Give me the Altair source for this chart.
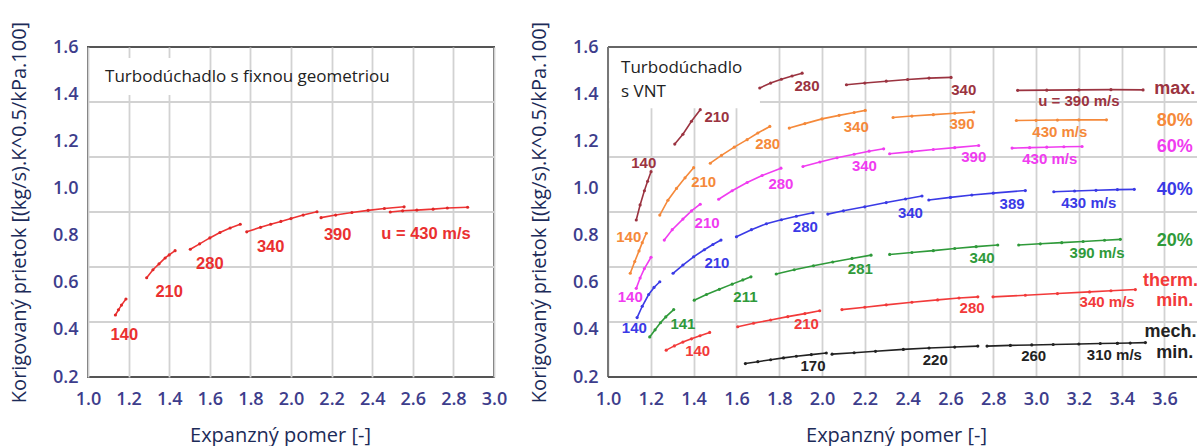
import altair as alt
import pandas as pd

# ---------------- data ----------------
# Left panel: fixed-geometry turbine, red speed lines (u in m/s)
LEFT_SPEEDS = ["140", "210", "280", "340", "390", "430"]
LEFT_X = [
    [1.135, 1.15, 1.165, 1.187],
    [1.289, 1.32, 1.35, 1.38, 1.40, 1.429],
    [1.504, 1.55, 1.60, 1.65, 1.70, 1.75],
    [1.782, 1.85, 1.90, 1.95, 2.00, 2.06, 2.128],
    [2.148, 2.22, 2.30, 2.38, 2.46, 2.557],
    [2.489, 2.55, 2.62, 2.70, 2.77, 2.87],
]
LEFT_Y = [
    [0.463, 0.485, 0.505, 0.531],
    [0.621, 0.655, 0.680, 0.705, 0.718, 0.736],
    [0.742, 0.765, 0.790, 0.813, 0.832, 0.848],
    [0.816, 0.835, 0.848, 0.860, 0.872, 0.887, 0.901],
    [0.876, 0.887, 0.898, 0.907, 0.915, 0.922],
    [0.900, 0.905, 0.908, 0.912, 0.917, 0.920],
]
LEFT_LABEL_TEXT = ["140", "210", "280", "340", "390", "u = 430 m/s"]
LEFT_LABEL_X = [1.179, 1.40, 1.60, 1.90, 2.23, 2.665]
LEFT_LABEL_Y = [0.378, 0.559, 0.679, 0.753, 0.802, 0.807]

# Right panel: VNT turbine, one family of speed lines per vane position
SERIES = ["max.", "80%", "60%", "40%", "20%", "therm. min.", "mech. min."]
COLORS = ["#9b3340", "#f5893a", "#f03cf0", "#3a3ae6", "#2f9a3a", "#f23a3a", "#222222"]
TEXT_COLORS = ["#8e2f3a", "#f5893a", "#f03cf0", "#3a3ae6", "#2f9a3a", "#f23a3a", "#555555"]

MAX_X = [[1.132, 1.15, 1.17, 1.185, 1.201], [1.312, 1.35, 1.39, 1.431],
         [1.709, 1.76, 1.81, 1.86, 1.907], [2.114, 2.2, 2.3, 2.4, 2.5, 2.603],
         [2.914, 3.05, 3.2, 3.35, 3.5]]
MAX_Y = [[0.866, 0.93, 0.99, 1.03, 1.071], [1.188, 1.23, 1.285, 1.334],
         [1.426, 1.447, 1.463, 1.477, 1.489], [1.44, 1.447, 1.455, 1.462, 1.468, 1.471],
         [1.416, 1.417, 1.418, 1.419, 1.418]]
P80_X = [[1.104, 1.125, 1.145, 1.16, 1.179], [1.242, 1.28, 1.32, 1.36, 1.40],
         [1.478, 1.53, 1.59, 1.65, 1.70, 1.756], [1.847, 1.92, 2.0, 2.08, 2.15, 2.202],
         [2.332, 2.42, 2.52, 2.62, 2.709], [2.908, 3.0, 3.1, 3.2, 3.329]]
P80_Y = [[0.640, 0.69, 0.735, 0.77, 0.810], [0.887, 0.95, 1.0, 1.045, 1.088],
         [1.107, 1.14, 1.175, 1.207, 1.235, 1.263], [1.256, 1.275, 1.295, 1.31, 1.322, 1.331],
         [1.301, 1.307, 1.313, 1.319, 1.324], [1.288, 1.289, 1.29, 1.291, 1.291]]
P60_X = [[1.132, 1.15, 1.17, 1.201], [1.263, 1.30, 1.35, 1.39, 1.431],
         [1.517, 1.58, 1.65, 1.72, 1.808], [1.911, 1.99, 2.07, 2.15, 2.22, 2.288],
         [2.316, 2.42, 2.52, 2.62, 2.732], [2.888, 2.97, 3.05, 3.13, 3.215]]
P60_Y = [[0.576, 0.62, 0.66, 0.708], [0.781, 0.825, 0.87, 0.905, 0.933],
         [0.954, 0.99, 1.025, 1.055, 1.086], [1.093, 1.112, 1.13, 1.145, 1.158, 1.168],
         [1.147, 1.156, 1.165, 1.173, 1.182], [1.171, 1.173, 1.175, 1.177, 1.178]]
P40_X = [[1.136, 1.16, 1.19, 1.215, 1.242], [1.304, 1.35, 1.40, 1.45, 1.49, 1.528],
         [1.600, 1.67, 1.74, 1.81, 1.88, 1.958], [2.027, 2.1, 2.2, 2.3, 2.39, 2.467],
         [2.499, 2.6, 2.7, 2.8, 2.95], [3.083, 3.18, 3.28, 3.38, 3.459]]
P40_Y = [[0.452, 0.50, 0.55, 0.58, 0.604], [0.640, 0.675, 0.71, 0.74, 0.762, 0.781],
         [0.795, 0.825, 0.85, 0.867, 0.882, 0.897], [0.891, 0.905, 0.922, 0.94, 0.955, 0.968],
         [0.951, 0.962, 0.972, 0.98, 0.991], [0.986, 0.989, 0.992, 0.995, 0.996]]
P20_X = [[1.195, 1.22, 1.245, 1.27, 1.307], [1.403, 1.46, 1.52, 1.58, 1.63, 1.668],
         [1.786, 1.87, 1.96, 2.05, 2.14, 2.229], [2.316, 2.42, 2.52, 2.62, 2.72, 2.821],
         [2.919, 3.02, 3.12, 3.22, 3.32, 3.394]]
P20_Y = [[0.370, 0.40, 0.43, 0.455, 0.486], [0.526, 0.55, 0.572, 0.594, 0.612, 0.625],
         [0.637, 0.655, 0.672, 0.688, 0.703, 0.717], [0.720, 0.728, 0.736, 0.745, 0.753, 0.760],
         [0.760, 0.765, 0.77, 0.775, 0.78, 0.784]]
THERM_X = [[1.272, 1.31, 1.35, 1.39, 1.43, 1.475], [1.606, 1.68, 1.76, 1.84, 1.92, 1.989],
           [2.093, 2.2, 2.3, 2.42, 2.54, 2.64, 2.728], [2.799, 2.95, 3.1, 3.25, 3.35, 3.464]]
THERM_Y = [[0.314, 0.332, 0.348, 0.362, 0.375, 0.389], [0.413, 0.428, 0.442, 0.456, 0.469, 0.481],
           [0.486, 0.496, 0.506, 0.517, 0.527, 0.535, 0.540], [0.540, 0.547, 0.554, 0.561, 0.566, 0.571]]
MECH_X = [[1.642, 1.70, 1.76, 1.82, 1.88, 1.95, 2.02], [2.047, 2.15, 2.25, 2.38, 2.5, 2.62, 2.728],
          [2.771, 2.88, 2.98, 3.08, 3.2, 3.3, 3.38], [3.38, 3.44, 3.511]]
MECH_Y = [[0.257, 0.265, 0.273, 0.281, 0.288, 0.295, 0.302], [0.297, 0.303, 0.309, 0.317, 0.323, 0.327, 0.331],
          [0.331, 0.334, 0.336, 0.338, 0.340, 0.342, 0.343], [0.343, 0.344, 0.346]]
RIGHT_X = [MAX_X, P80_X, P60_X, P40_X, P20_X, THERM_X, MECH_X]
RIGHT_Y = [MAX_Y, P80_Y, P60_Y, P40_Y, P20_Y, THERM_Y, MECH_Y]

# speed labels next to the lines: (series, text, x, y)
RIGHT_LABELS = [
    ("max.", "140", 1.167, 1.110), ("max.", "210", 1.509, 1.305), ("max.", "280", 1.930, 1.433),
    ("max.", "340", 2.662, 1.418), ("max.", "u = 390 m/s", 3.2, 1.372),
    ("80%", "140", 1.097, 0.795), ("80%", "210", 1.447, 1.029), ("80%", "280", 1.746, 1.189),
    ("80%", "340", 2.16, 1.26), ("80%", "390", 2.654, 1.274), ("80%", "430 m/s", 3.111, 1.241),
    ("60%", "140", 1.104, 0.540), ("60%", "210", 1.463, 0.852), ("60%", "280", 1.808, 1.019),
    ("60%", "340", 2.198, 1.096), ("60%", "390", 2.709, 1.135), ("60%", "430 m/s", 3.064, 1.124),
    ("40%", "140", 1.123, 0.406), ("40%", "210", 1.509, 0.685), ("40%", "280", 1.922, 0.835),
    ("40%", "340", 2.413, 0.897), ("40%", "389", 2.888, 0.933), ("40%", "430 m/s", 3.246, 0.937),
    ("20%", "141", 1.350, 0.424), ("20%", "211", 1.642, 0.538), ("20%", "281", 2.179, 0.657),
    ("20%", "340", 2.748, 0.706), ("20%", "390 m/s", 3.285, 0.727),
    ("therm. min.", "140", 1.419, 0.311), ("therm. min.", "210", 1.927, 0.424),
    ("therm. min.", "280", 2.701, 0.491), ("therm. min.", "340 m/s", 3.332, 0.519),
    ("mech. min.", "170", 1.958, 0.246), ("mech. min.", "220", 2.529, 0.274),
    ("mech. min.", "260", 2.989, 0.288), ("mech. min.", "310 m/s", 3.366, 0.292),
]
# vane-position key at the right edge
KEY_LABELS = [
    ("max.", "max.", 3.648, 1.423), ("80%", "80%", 3.648, 1.284), ("60%", "60%", 3.648, 1.175),
    ("40%", "40%", 3.648, 0.994), ("20%", "20%", 3.648, 0.778),
    ("therm. min.", "therm.", 3.628, 0.606), ("therm. min.", "min.", 3.648, 0.524),
    ("mech. min.", "mech.", 3.628, 0.393), ("mech. min.", "min.", 3.648, 0.300),
]

Y_TICKS = [0.2, 0.4, 0.6, 0.8, 1.0, 1.2, 1.4, 1.6]
Y_GRID = [0.4333, 0.6667, 0.9, 1.1333, 1.3667]
LEFT_X_TICKS = [1.0, 1.2, 1.4, 1.6, 1.8, 2.0, 2.2, 2.4, 2.6, 2.8, 3.0]
RIGHT_X_TICKS = [1.0, 1.2, 1.4, 1.6, 1.8, 2.0, 2.2, 2.4, 2.6, 2.8, 3.0, 3.2, 3.4, 3.6]

LEFT_TITLE = "Turbodúchadlo s fixnou geometriou"
RIGHT_TITLE = ["Turbodúchadlo", "s VNT"]
Y_TITLE = "Korigovaný prietok [(kg/s).K^0.5/kPa.100]"
X_TITLE = "Expanzný pomer [-]"

# ---------------- build tables ----------------
left_rows = []
for sp, xs, ys in zip(LEFT_SPEEDS, LEFT_X, LEFT_Y):
    for i, (x, y) in enumerate(zip(xs, ys)):
        left_rows.append({"seg": sp, "order": i, "x": x, "y": y})
left_df = pd.DataFrame(left_rows)
left_lab = pd.DataFrame({"text": LEFT_LABEL_TEXT, "x": LEFT_LABEL_X, "y": LEFT_LABEL_Y})

right_rows = []
for s, segx, segy in zip(SERIES, RIGHT_X, RIGHT_Y):
    for k, (xs, ys) in enumerate(zip(segx, segy)):
        for i, (x, y) in enumerate(zip(xs, ys)):
            right_rows.append({"series": s, "seg": f"{s}-{k}", "order": i, "x": x, "y": y})
right_df = pd.DataFrame(right_rows)
right_lab = pd.DataFrame(RIGHT_LABELS, columns=["series", "text", "x", "y"])
key_lab = pd.DataFrame(KEY_LABELS, columns=["series", "text", "x", "y"])

grid_df = pd.DataFrame({"y": Y_GRID})

LABEL_FONT = "Liberation Sans"
TICK_FONT = "Open Sans"
TICK_COLOR = "#3d3d8c"
TITLE_COLOR = "#1c2b58"
GRID_COLOR = "#d2d2d2"

def y_axis():
    return alt.Axis(values=Y_TICKS, format=".1f", grid=False, ticks=False, domain=False,
                    labelFlush=False,
                    labelFont=TICK_FONT, labelFontSize=18, labelFontWeight=600,
                    labelColor=TICK_COLOR, labelPadding=10,
                    title=Y_TITLE, titleFont="Open Sans", titleFontSize=20, titleFontWeight="normal",
                    titleColor=TITLE_COLOR, titlePadding=23)

def x_axis(vals, title_x):
    return alt.Axis(values=vals, format=".1f", grid=True, gridColor=GRID_COLOR, gridWidth=1.8,
                    ticks=False, domain=False, labelFlush=False,
                    labelFont=TICK_FONT, labelFontSize=18, labelFontWeight=600,
                    labelColor=TICK_COLOR, labelPadding=13,
                    title=X_TITLE, titleFont="Open Sans", titleFontSize=20, titleFontWeight="normal",
                    titleColor=TITLE_COLOR, titlePadding=17, titleX=title_x)

# ---------------- left panel ----------------
lx = alt.Scale(domain=[1.0, 3.0], nice=False, zero=False)
ly = alt.Scale(domain=[0.2, 1.6], nice=False, zero=False)

l_base = alt.Chart(left_df).encode(
    x=alt.X("x:Q", scale=lx, axis=x_axis(LEFT_X_TICKS, 192)),
    y=alt.Y("y:Q", scale=ly, axis=y_axis()),
)
l_grid = alt.Chart(grid_df).mark_rule(color=GRID_COLOR, strokeWidth=1.8).encode(y=alt.Y("y:Q", scale=ly))
l_box = alt.Chart(pd.DataFrame({"x": [1.02], "x2": [1.56], "y": [1.396], "y2": [1.553]})).mark_rect(
    color="white").encode(x=alt.X("x:Q", scale=lx), x2="x2", y=alt.Y("y:Q", scale=ly), y2="y2")
l_lines = l_base.mark_line(color="#ee3333", strokeWidth=1.6).encode(detail="seg:N", order="order:Q")
l_pts = l_base.mark_circle(color="#e02828", size=10, opacity=1)
l_labels = alt.Chart(left_lab).mark_text(font=LABEL_FONT, fontWeight="bold", fontSize=16.5,
                                         color="#ea3030", baseline="middle").encode(
    x=alt.X("x:Q", scale=lx), y=alt.Y("y:Q", scale=ly), text="text:N")
l_title = alt.Chart(pd.DataFrame({"text": [LEFT_TITLE], "x": [1.084], "y": [1.473]})).mark_text(
    font="Open Sans", fontSize=17, color="#222222", align="left", baseline="middle").encode(
    x=alt.X("x:Q", scale=lx), y=alt.Y("y:Q", scale=ly), text="text:N")

left = alt.layer(l_grid, l_box, l_lines, l_pts, l_labels, l_title).properties(
    width=406, height=330, view=alt.ViewConfig(stroke="#555555", strokeWidth=2))

# ---------------- right panel ----------------
rx = alt.Scale(domain=[1.0, 3.752], nice=False, zero=False)
ry = alt.Scale(domain=[0.2, 1.6], nice=False, zero=False)
line_color = alt.Color("series:N", scale=alt.Scale(domain=SERIES, range=COLORS), legend=None)
text_color = alt.Color("series:N", scale=alt.Scale(domain=SERIES, range=TEXT_COLORS), legend=None)

r_base = alt.Chart(right_df).encode(
    x=alt.X("x:Q", scale=rx, axis=x_axis(RIGHT_X_TICKS, 288)),
    y=alt.Y("y:Q", scale=ry, axis=y_axis()),
)
r_grid = alt.Chart(grid_df).mark_rule(color=GRID_COLOR, strokeWidth=1.8).encode(y=alt.Y("y:Q", scale=ry))
r_box = alt.Chart(pd.DataFrame({"x": [1.006], "x2": [1.71], "y": [1.34], "y2": [1.596]})).mark_rect(
    color="white").encode(x=alt.X("x:Q", scale=rx), x2="x2", y=alt.Y("y:Q", scale=ry), y2="y2")
r_lines = r_base.mark_line(strokeWidth=1.6).encode(color=line_color, detail="seg:N", order="order:Q")
r_pts = r_base.mark_circle(size=10, opacity=1).encode(color=line_color)
r_labels = alt.Chart(right_lab).mark_text(font=LABEL_FONT, fontWeight="bold", fontSize=15,
                                          baseline="middle", clip=True).encode(
    x=alt.X("x:Q", scale=rx), y=alt.Y("y:Q", scale=ry), text="text:N", color=text_color)
r_keys = alt.Chart(key_lab).mark_text(font=LABEL_FONT, fontWeight="bold", fontSize=18,
                                      baseline="middle", clip=True).encode(
    x=alt.X("x:Q", scale=rx), y=alt.Y("y:Q", scale=ry), text="text:N", color=text_color)
r_title = alt.Chart(pd.DataFrame({"text": RIGHT_TITLE, "x": [1.061, 1.061], "y": [1.511, 1.411]})).mark_text(
    font="Open Sans", fontSize=17, color="#222222", align="left", baseline="middle").encode(
    x=alt.X("x:Q", scale=rx), y=alt.Y("y:Q", scale=ry), text="text:N")
r_frame_top = alt.Chart(grid_df).mark_rule(color="#666666", strokeWidth=2).encode(
    x=alt.value(0), x2=alt.value(589), y=alt.value(0))
r_frame_left = alt.Chart(grid_df).mark_rule(color="#777777", strokeWidth=2).encode(
    x=alt.value(0), y=alt.value(0), y2=alt.value(330))
r_frame_bot = alt.Chart(grid_df).mark_rule(color="#555555", strokeWidth=2).encode(
    x=alt.value(0), x2=alt.value(589), y=alt.value(330))

right = alt.layer(r_grid, r_box, r_lines, r_pts, r_labels, r_keys, r_title,
                  r_frame_top, r_frame_left, r_frame_bot).properties(
    width=589, height=330, view=alt.ViewConfig(stroke="transparent"))

chart = alt.hconcat(left, right, spacing=20).properties(
    padding={"left": 8, "top": 20, "right": 0, "bottom": 0}
).configure(background="white")

chart.save("out.html", embed_options={"renderer": "svg", "actions": False})
